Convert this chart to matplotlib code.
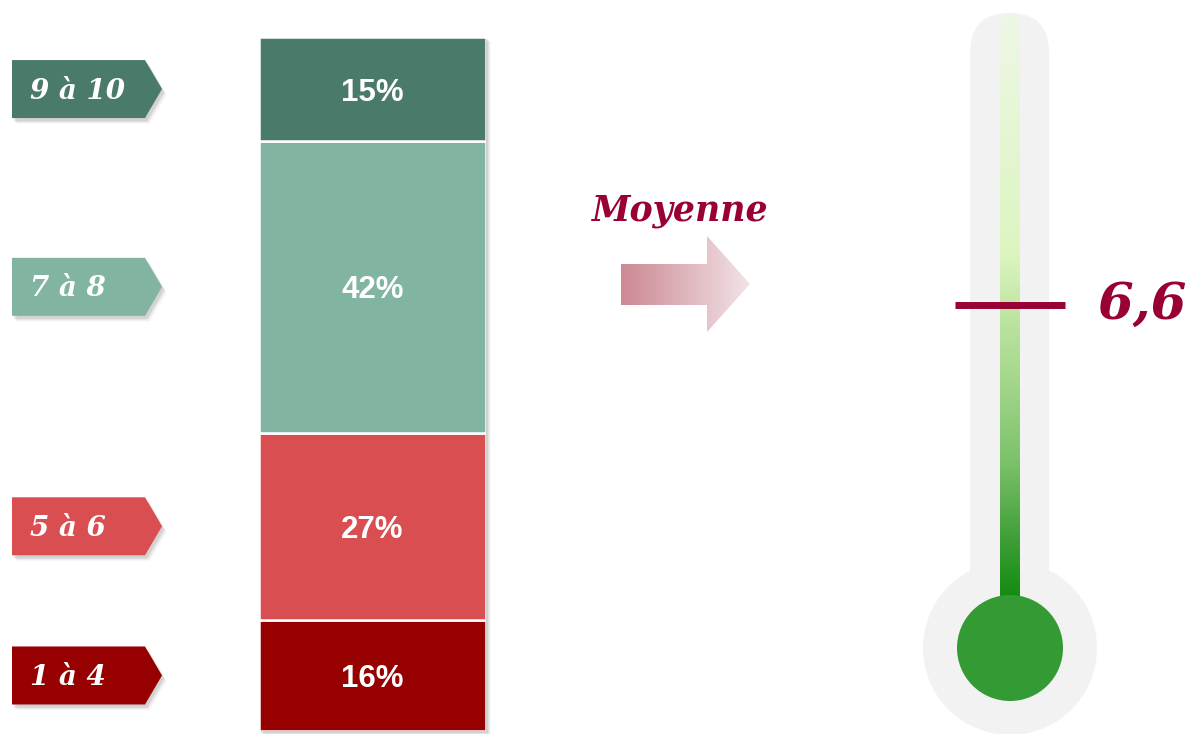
import numpy as np
import matplotlib.pyplot as plt
from matplotlib.patches import Polygon, Circle, FancyBboxPatch, Rectangle
from matplotlib.colors import LinearSegmentedColormap

# données
classes = ['1 à 4', '5 à 6', '7 à 8', '9 à 10']
parts = [16, 27, 42, 15]
couleurs = ['#960000', '#D94E50', '#82B4A2', '#4A7A6A']
moyenne = 6.6
titre_moyenne = 'Moyenne'

SERIF = ['DejaVu Serif']
BORDEAUX = '#990033'

W, H = 1189, 734
fig = plt.figure(figsize=(W / 100, H / 100), dpi=100)
fig.patch.set_facecolor('white')
ax = fig.add_axes([0, 0, 1, 1])
ax.set_xlim(0, W)
ax.set_ylim(H, 0)
ax.axis('off')

# barre empilée dans son propre repère
bx0, bx1, by0, by1 = 259, 486, 37, 731
bax = fig.add_axes([bx0 / W, 1 - by1 / H, (bx1 - bx0) / W, (by1 - by0) / H])
bax.set_xlim(-0.5, 0.5)
bax.set_ylim(0, sum(parts))
bax.axis('off')

# ombre de la barre
for k, a in enumerate([0.14, 0.10, 0.07, 0.04]):
    ax.add_patch(Rectangle((bx0 + 2 + k, by0 + 2 + k), bx1 - bx0, by1 - by0,
                           facecolor='#707070', alpha=a, edgecolor='none', zorder=0))

bas = np.concatenate([[0], np.cumsum(parts)[:-1]])
bax.bar(0, parts, bottom=bas, width=1.0, color=couleurs, edgecolor='white',
        linewidth=1.8)
for b, v in zip(bas, parts):
    bax.text(0, b + v / 2, f'{v}%', ha='center', va='center_baseline',
             color='white', fontsize=22.5, fontweight='bold',
             family='Liberation Sans')

# étiquettes en forme de flèche
to_ax = ax.transData.inverted()
for b, v, lab, c in zip(bas, parts, classes, couleurs):
    disp = bax.transData.transform((0, b + v / 2))
    cy = to_ax.transform(disp)[1]
    pts = [(12, cy - 29), (145, cy - 29), (162, cy), (145, cy + 29), (12, cy + 29)]
    for k, a in enumerate([0.12, 0.09, 0.06, 0.03]):
        sh = [(x + 2 + k, y + 3 + k) for x, y in pts]
        ax.add_patch(Polygon(sh, closed=True, facecolor='#606060', alpha=a,
                             edgecolor='none', zorder=1))
    ax.add_patch(Polygon(pts, closed=True, facecolor=c, edgecolor='none', zorder=2))
    ax.text(30, cy + 2, lab, ha='left', va='center', color='white', fontsize=20,
            fontweight='bold', fontstyle='italic', family=SERIF, zorder=3)

# flèche dégradée + titre
fleche = Polygon([(621, 264), (707, 264), (707, 236), (750, 284), (707, 332),
                  (707, 305), (621, 305)], closed=True, facecolor='none',
                 edgecolor='none')
ax.add_patch(fleche)
cm_fleche = LinearSegmentedColormap.from_list('fl', ['#CC8893', '#F2E3E6'])
img = ax.imshow(np.linspace(0, 1, 256)[None, :], cmap=cm_fleche, aspect='auto',
                extent=(621, 750, 332, 236), zorder=2)
img.set_clip_path(fleche)
ax.text(680, 211, titre_moyenne, ha='center', va='center', color=BORDEAUX,
        fontsize=25, fontweight='bold', fontstyle='italic', family=SERIF)

# thermomètre
tx = 1010
ax.add_patch(FancyBboxPatch((970, 13), 79, 600,
                            boxstyle='round,pad=0,rounding_size=39.5',
                            facecolor='#F2F2F2', edgecolor='none', zorder=1))
ax.add_patch(Circle((tx, 648), 87, facecolor='#F2F2F2', edgecolor='none', zorder=1))

colonne = FancyBboxPatch((1000, 13), 20, 600,
                         boxstyle='round,pad=0,rounding_size=10',
                         facecolor='none', edgecolor='none', zorder=2)
ax.add_patch(colonne)
cm_col = LinearSegmentedColormap.from_list(
    'col', [(0.0, '#EEF7E6'), (0.40, '#DCF5C0'), (0.50, '#BFE6A2'),
            (0.62, '#A2D68A'), (0.75, '#7CC169'), (0.88, '#3E9E36'),
            (1.0, '#078707')])
img2 = ax.imshow(np.linspace(0, 1, 256)[:, None], cmap=cm_col, aspect='auto',
                 extent=(1000, 1020, 613, 13), zorder=2)
img2.set_clip_path(colonne)
ax.add_patch(Circle((tx, 648), 53, facecolor='#349A34', edgecolor='none', zorder=3))

# repère de la moyenne (échelle 0-10 de la colonne)
g_min, g_max, y_min, y_max = 0, 10, 872, 13
ym = y_min + (moyenne - g_min) / (g_max - g_min) * (y_max - y_min)
ax.plot([955, 1065], [ym, ym], color=BORDEAUX, linewidth=5, solid_capstyle='butt',
        zorder=4)
ax.text(1098, ym, f'{moyenne:.1f}'.replace('.', ','), ha='left', va='center',
        color=BORDEAUX, fontsize=37, fontweight='bold', fontstyle='italic',
        family=SERIF)

fig.savefig('out.png', dpi=100)
